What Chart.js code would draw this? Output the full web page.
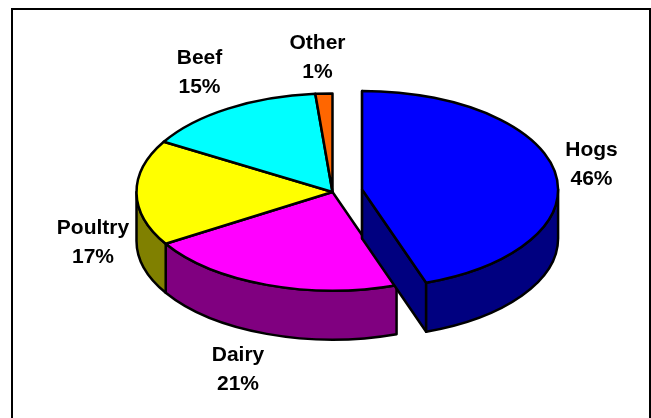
<!DOCTYPE html>
<html><head><meta charset="utf-8">
<style>html,body{margin:0;padding:0;background:#fff}canvas{display:block}</style>
<script src="https://cdn.jsdelivr.net/npm/chart.js@4"></script>
</head><body>
<canvas id="c" width="651" height="418"></canvas>
<script>
const categories = ["Hogs", "Dairy", "Poultry", "Beef", "Other"];
// Slice sizes as drawn in the picture (share of the pie, in %)
const sliceShares = [44.7, 21.5, 17.3, 15.1, 1.4];
// Percentages as printed on the picture
const printedPercents = ["46%", "21%", "17%", "15%", "1%"];
const topColors = ["#0000FF", "#FF00FF", "#FFFF00", "#00FFFF", "#FF6600"];
const sideColors = ["#000080", "#800080", "#808000", "#008080", "#803300"];
const explode = [30, 0, 0, 0, 0];

const TILT = 0.503, DEPTH = 49;
const labelCentres = [[591.5,164],[238,369],[93,242],[199.5,72],[317.5,57]];

const pie3d = {
  id: 'pie3d',
  beforeDatasetDraw(chart) {
    const ctx = chart.ctx;
    const arcs = chart.getDatasetMeta(0).data;
    ctx.save();
    ctx.lineWidth = 2.5;
    ctx.strokeStyle = '#000';
    ctx.lineJoin = 'round';
    const geom = arcs.map((a, i) => {
      const mid = (a.startAngle + a.endAngle) / 2;
      return { a, i,
        cx: a.x + Math.cos(mid) * explode[i],
        cy: a.y + Math.sin(mid) * explode[i] * TILT,
        rx: a.outerRadius, ry: a.outerRadius * TILT };
    });
    const wall = g => {
      const s = Math.max(g.a.startAngle, 0), e = Math.min(g.a.endAngle, Math.PI);
      if (e <= s) return;
      ctx.beginPath();
      ctx.ellipse(g.cx, g.cy, g.rx, g.ry, 0, s, e, false);
      ctx.ellipse(g.cx, g.cy + DEPTH, g.rx, g.ry, 0, e, s, true);
      ctx.closePath();
      ctx.fillStyle = sideColors[g.i];
      ctx.fill(); ctx.stroke();
    };
    const cutFaces = g => {
      [g.a.startAngle, g.a.endAngle].forEach(t => {
        const px = g.cx + Math.cos(t) * g.rx, py = g.cy + Math.sin(t) * g.ry;
        ctx.beginPath();
        ctx.moveTo(g.cx, g.cy); ctx.lineTo(px, py);
        ctx.lineTo(px, py + DEPTH); ctx.lineTo(g.cx, g.cy + DEPTH);
        ctx.closePath();
        ctx.fillStyle = sideColors[g.i];
        ctx.fill(); ctx.stroke();
      });
    };
    const top = g => {
      ctx.beginPath();
      ctx.moveTo(g.cx, g.cy);
      ctx.ellipse(g.cx, g.cy, g.rx, g.ry, 0, g.a.startAngle, g.a.endAngle, false);
      ctx.closePath();
      ctx.fillStyle = g.a.options.backgroundColor;
      ctx.fill(); ctx.stroke();
    };
    const still = geom.filter(g => !explode[g.i]);
    const moved = geom.filter(g => explode[g.i]);
    still.forEach(wall);
    still.forEach(top);
    moved.forEach(g => { cutFaces(g); wall(g); top(g); });
    ctx.restore();
    return false;
  },
  afterDraw(chart) {
    const ctx = chart.ctx;
    ctx.save();
    ctx.lineWidth = 2;
    ctx.strokeStyle = '#000';
    ctx.beginPath();
    ctx.moveTo(12, 430); ctx.lineTo(12, 9); ctx.lineTo(650, 9); ctx.lineTo(650, 430);
    ctx.stroke();
    ctx.fillStyle = '#000';
    ctx.font = 'bold 21px "Liberation Sans", Arial, sans-serif';
    ctx.textAlign = 'center';
    ctx.textBaseline = 'middle';
    categories.forEach((name, i) => {
      const [x, y] = labelCentres[i];
      ctx.fillText(name, x, y - 14);
      ctx.fillText(printedPercents[i], x, y + 15);
    });
    ctx.restore();
  }
};

new Chart(document.getElementById('c'), {
  type: 'pie',
  data: { labels: categories, datasets: [{ data: sliceShares, backgroundColor: topColors, borderWidth: 0, radius: 196 }] },
  options: {
    responsive: false, animation: false,
    rotation: 0,
    layout: { padding: { left: 14, right: 0, top: 0, bottom: 34 } },
    plugins: { legend: { display: false }, tooltip: { enabled: false } }
  },
  plugins: [pie3d]
});
</script>
</body></html>
